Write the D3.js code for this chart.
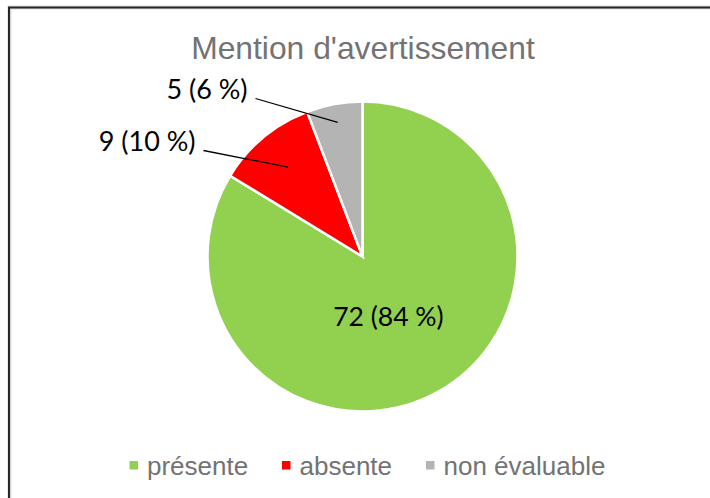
<!DOCTYPE html>
<html>
<head>
<meta charset="utf-8">
<script src="https://cdn.jsdelivr.net/npm/d3@7"></script>
<style>
  body { margin: 0; background: #fff; }
  svg { display: block; }
</style>
</head>
<body>
<div id="chart"></div>
<script>
// data
var categories = ["présente", "absente", "non évaluable"];
var values = [72, 9, 5];
var colors = ["#92D050", "#FF0000", "#B4B4B4"];
var title = "Mention d'avertissement";

var width = 710, height = 498;
var cx = 362.5, cy = 256.5, radius = 155;

var svg = d3.select("#chart")
	.append("svg")
	.attr("width", width)
	.attr("height", height);

// chart area frame (runs off the right and bottom of the picture)
svg.append("rect")
	.attr("x", 9.5)
	.attr("y", 7.5)
	.attr("width", 800)
	.attr("height", 600)
	.style("fill", "#fff")
	.style("stroke", "#d9d9d9")
	.style("stroke-width", 4);
svg.append("rect")
	.attr("x", 9)
	.attr("y", 7.5)
	.attr("width", 800)
	.attr("height", 600)
	.style("fill", "none")
	.style("stroke", "#262626")
	.style("stroke-width", 2);

svg.append("text")
	.attr("x", 363)
	.attr("y", 59)
	.attr("text-anchor", "middle")
	.style("font-family", "'Liberation Sans', Arial, sans-serif")
	.style("font-size", "31.8px")
	.style("fill", "#737373")
	.text(title);

var data = categories.map(function(c, i) {
	return { name: c, value: values[i], color: colors[i] };
});
var total = d3.sum(values);

var pie = d3.pie()
	.value(function(d) { return d.value; })
	.sort(null);
var arcs = pie(data);

var arc = d3.arc().innerRadius(0).outerRadius(radius);

var g = svg.append("g")
	.attr("transform", "translate(" + cx + "," + cy + ")");

g.selectAll(".slice")
	.data(arcs)
	.enter().append("path")
	.attr("class", "slice")
	.attr("d", arc)
	.style("fill", function(d) { return d.data.color; })
	.style("stroke", "#fff")
	.style("stroke-width", 2.5)
	.style("stroke-linejoin", "miter");

function labelText(d) {
	return d.data.value + " (" + Math.round(d.data.value / total * 100) + "\u202F%)";
}

var labelFont = "Lato, 'Open Sans', sans-serif";

// big slice: label inside
var inner = arcs[0];
var innerArc = d3.arc().innerRadius(radius * 0.42).outerRadius(radius * 0.42);
var c0 = innerArc.centroid(inner);
g.append("text")
	.attr("x", c0[0] - 6)
	.attr("y", c0[1] + 13)
	.attr("text-anchor", "middle")
	.style("font-family", labelFont)
	.style("font-size", "26.5px")
	.style("fill", "#000")
	.text(labelText(inner));

// small slices: label outside with a leader line
// [radius factor of the line start, line end dx, dy from centre]
var leader = [null, [0.75, -159, -106], [0.88, -107, -158]];

arcs.forEach(function(d, i) {
	if (!leader[i]) return;
	var lp = leader[i];
	var a = (d.startAngle + d.endAngle) / 2;
	var r0 = radius * lp[0];
	var x0 = Math.sin(a) * r0, y0 = -Math.cos(a) * r0;
	g.append("line")
		.attr("x1", x0).attr("y1", y0)
		.attr("x2", lp[1]).attr("y2", lp[2])
		.style("stroke", "#000")
		.style("stroke-width", 1.3);
	g.append("text")
		.attr("x", lp[1] - 8)
		.attr("y", lp[2] + 0.5)
		.attr("text-anchor", "end")
		.style("font-family", labelFont)
		.style("font-size", "27px")
		.style("fill", "#000")
		.text(labelText(d));
});

// legend
var legend = svg.append("g").attr("class", "legend");
var legX = [129.5, 282, 426];
data.forEach(function(d, i) {
	var item = legend.append("g")
		.attr("transform", "translate(" + legX[i] + ",461)");
	item.append("rect")
		.attr("width", 8.5)
		.attr("height", 8.5)
		.style("fill", d.color);
	item.append("text")
		.attr("x", 17.5)
		.attr("y", 13.5)
		.style("font-family", "'Liberation Sans', Arial, sans-serif")
		.style("font-size", "26px")
		.style("fill", "#737373")
		.text(d.name);
});
</script>
</body>
</html>
